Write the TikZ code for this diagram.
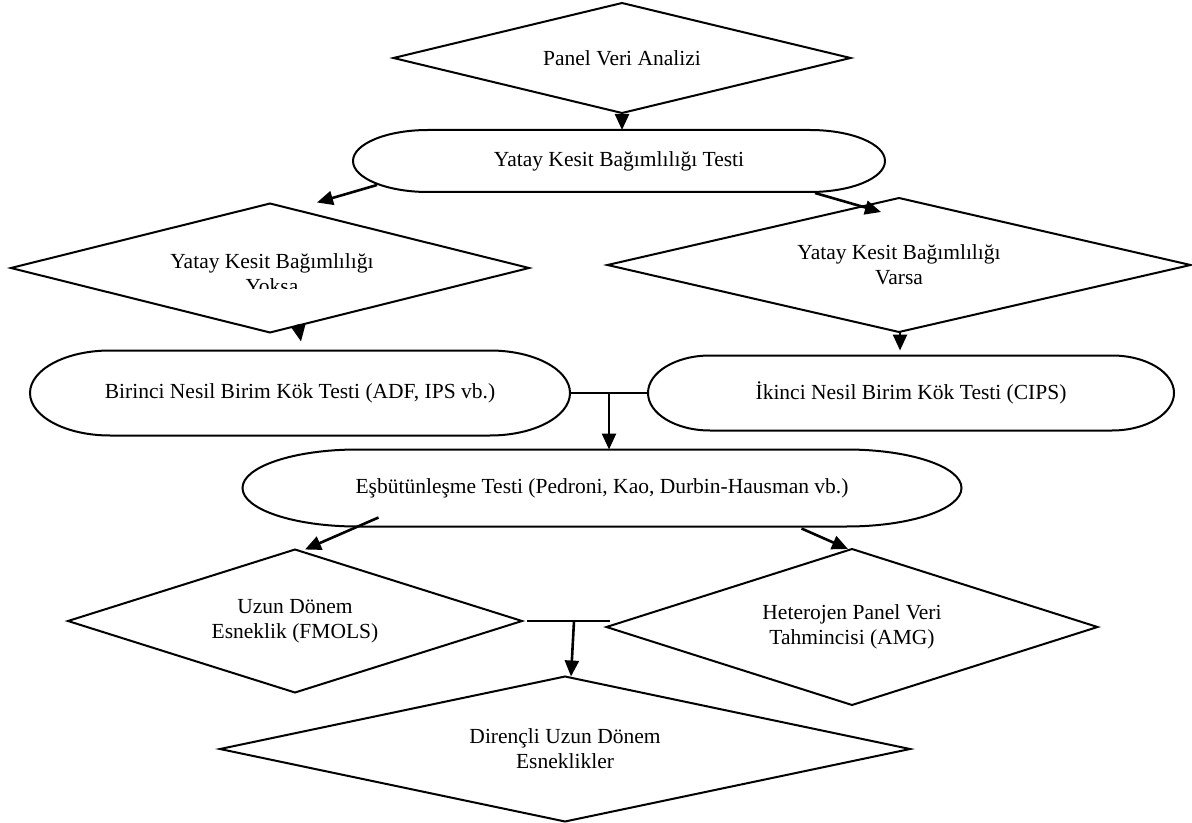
\documentclass[tikz,border=0pt]{standalone}
\usepackage{fontspec}
\setmainfont{Liberation Serif}
\usetikzlibrary{shapes.geometric,arrows.meta,calc}

\begin{document}
\begin{tikzpicture}[x=0.5pt,y=-0.5pt,
    font=\fontsize{10.75}{12.4}\selectfont,
    dia/.style={diamond, draw, line width=1pt, inner sep=0pt, outer sep=0pt, shape aspect=4, align=center},
    term/.style={inner sep=0pt, outer sep=0pt, align=center},
    arr/.style={line width=1.3pt, -{Triangle[length=8pt,width=7pt]}}]
    \useasboundingbox (0,0) rectangle (1192,823);

    \node[dia, minimum width=228.5pt, minimum height=55pt] (d0) at (622,58) {Panel Veri Analizi};
    \node[term, minimum width=266pt, minimum height=31pt] (e1) at (619,161) {Yatay Kesit Bağımlılığı Testi};
    \node[dia, minimum width=259pt, minimum height=64.5pt] (d1) at (270,268) {};
    \begin{scope}
        \clip (0,0) rectangle (1192,289);
        \node[align=center, inner sep=0pt] (d1txt) at (272,274) {Yatay Kesit Bağımlılığı\\Yoksa};
    \end{scope}
    \node[dia, minimum width=291.5pt, minimum height=67pt] (d2) at (899,265) {Yatay Kesit Bağımlılığı\\Varsa};
    \node[term, minimum width=270pt, minimum height=42.5pt] (b1) at (300,393) {Birinci Nesil Birim Kök Testi (ADF, IPS vb.)};
    \node[term, minimum width=263pt, minimum height=37.5pt] (b2) at (911,393) {İkinci Nesil Birim Kök Testi (CIPS)};
    \node[term, minimum width=359.5pt, minimum height=38.5pt] (e3) at (602,488) {Eşbütünleşme Testi (Pedroni, Kao, Durbin-Hausman vb.)};
    \node[dia, minimum width=227pt, minimum height=71.5pt] (d3) at (295,621) {Uzun Dönem\\Esneklik (FMOLS)};
    \node[dia, minimum width=245.5pt, minimum height=78pt] (d4) at (852,627) {Heterojen Panel Veri\\Tahmincisi (AMG)};
    \node[dia, minimum width=345pt, minimum height=72.5pt] (d5) at (565,749) {Dirençli Uzun Dönem\\Esneklikler};

    % terminator outlines
    \foreach \n/\rx/\ry in {e1/37.5/15.5, b1/40/21.25, b2/31/18.75, e3/57.5/19.25}
        \draw[line width=1pt] ([xshift=\rx pt]\n.north west) -- ([xshift=-\rx pt]\n.north east)
            arc[start angle=90, end angle=-90, x radius=\rx pt, y radius=\ry pt]
            -- ([xshift=\rx pt]\n.south west)
            arc[start angle=270, end angle=90, x radius=\rx pt, y radius=\ry pt] -- cycle;

    \coordinate (j1) at ($(b1.east)!0.5!(b2.west)$);
    \coordinate (j2) at ([xshift=26pt]d3.east);

    \draw[arr] (d0.south) -- (d0.south |- e1.north);
    \draw[arr] ([shift={(24,-7)}]e1.south west) -- ([shift={(47,-1)}]d1.north);
    \draw[arr] ([shift={(-70,1)}]e1.south east) -- ([shift={(-18,14)}]d2.north);
    \draw[arr] ([shift={(28,-8)}]d1.south) -- ([shift={(1,-9)}]b1.north);
    \draw[arr] ([shift={(1,0)}]d2.south) -- ([shift={(-11,-5)}]b2.north);
    \draw[line width=1pt] (b1.east) -- (b2.west);
    \draw[arr] (j1) -- (j1 |- e3.north);
    \draw[arr] ([shift={(136,-9)}]e3.south west) -- ([shift={(10,0)}]d3.north);
    \draw[arr] ([shift={(-160,2)}]e3.south east) -- ([shift={(-4,0)}]d4.north);
    \draw[line width=1pt] ([xshift=2.5pt]d3.east) -- ([xshift=44pt]d3.east);
    \draw[arr] (j2) -- ([shift={(6,0)}]d5.north);
\end{tikzpicture}
\end{document}
